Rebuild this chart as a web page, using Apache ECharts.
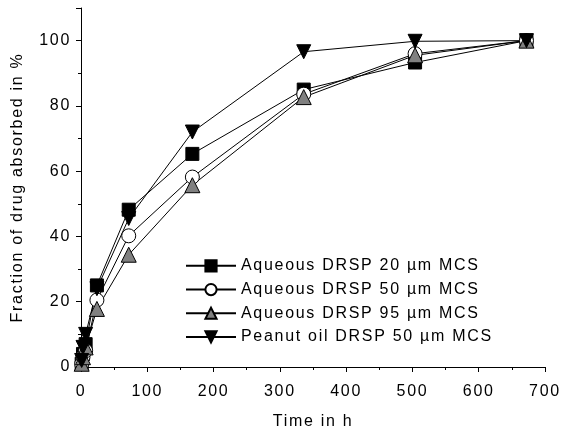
<!DOCTYPE html>
<html>
<head>
<meta charset="utf-8">
<script src="https://cdn.jsdelivr.net/npm/echarts@6/dist/echarts.min.js"></script>
<style>
  html, body { margin: 0; padding: 0; background: #fff; }
  #chart { width: 562px; height: 434px; }
</style>
</head>
<body>
<div id="chart"></div>
<script>
// Slightly airy lettering for every label drawn on the canvas
(function () {
  const proto = CanvasRenderingContext2D.prototype;
  const fill = proto.fillText;
  const measure = proto.measureText;
  proto.fillText = function () { this.letterSpacing = '1.7px'; return fill.apply(this, arguments); };
  proto.measureText = function () { this.letterSpacing = '1.7px'; return measure.apply(this, arguments); };
})();

// Sampling times (h) and absorbed fractions (%) per formulation
const times = [1, 3, 7, 24, 72, 168, 336, 504, 672];
const aq20 = [1, 4, 7, 25, 48.2, 65.3, 85, 93.3, 100];
const aq50 = [1, 3, 5, 20.5, 40.2, 58.2, 83.6, 96, 100];
const aq95 = [1, 3, 6, 17.8, 34.4, 55.7, 82.7, 95.5, 100];
const peanut50 = [2, 6, 10, 24, 45.5, 72, 96.6, 99.8, 100];

const seriesNames = [
  'Aqueous DRSP 20 \u00b5m MCS',
  'Aqueous DRSP 50 \u00b5m MCS',
  'Aqueous DRSP 95 \u00b5m MCS',
  'Peanut oil DRSP 50 \u00b5m MCS'
];

const pairs = v => times.map((t, i) => [t, v[i]]);
const font = 'Liberation Sans, Arial, sans-serif';

function line(name, values, symbol, size, fill) {
  return {
    name: name,
    type: 'line',
    data: pairs(values),
    symbol: symbol,
    symbolSize: size,
    showSymbol: true,
    lineStyle: { color: '#000', width: 1 },
    itemStyle: { color: fill, borderColor: '#000', borderWidth: 1 },
    emphasis: { disabled: true },
    animation: false
  };
}

const chart = echarts.init(document.getElementById('chart'), null, { renderer: 'canvas' });
chart.setOption({
  animation: false,
  grid: { left: 81, right: 17, top: 8, bottom: 67, containLabel: false, outerBoundsMode: 'none' },
  legend: {
    orient: 'vertical',
    left: 185,
    top: 257,
    padding: 0,
    itemWidth: 50,
    itemHeight: 14,
    itemGap: 6,
    data: seriesNames,
    textStyle: { fontFamily: font, fontSize: 16, lineHeight: 16, color: '#000' }
  },
  xAxis: {
    type: 'value',
    min: 0, max: 700, interval: 100,
    name: 'Time in h',
    nameLocation: 'middle',
    nameGap: 46,
    nameTextStyle: { fontFamily: font, fontSize: 16, color: '#000' },
    axisLine: { show: true, onZero: false, lineStyle: { color: '#000', width: 1 } },
    axisTick: { show: true, inside: false, length: 5, lineStyle: { color: '#000' } },
    minorTick: { show: true, splitNumber: 2, length: 3, lineStyle: { color: '#000' } },
    axisLabel: { fontFamily: font, fontSize: 16, color: '#000', margin: 16 },
    splitLine: { show: false }
  },
  yAxis: {
    type: 'value',
    min: 0, max: 110, interval: 20,
    name: 'Fraction of drug absorbed in %',
    nameLocation: 'middle',
    nameGap: 55,
    nameTextStyle: { fontFamily: font, fontSize: 16, color: '#000' },
    axisLine: { show: true, onZero: false, lineStyle: { color: '#000', width: 1 } },
    axisTick: { show: true, inside: false, length: 5, lineStyle: { color: '#000' } },
    minorTick: { show: true, splitNumber: 2, length: 3, lineStyle: { color: '#000' } },
    axisLabel: { fontFamily: font, fontSize: 16, color: '#000', margin: 10,
      formatter: v => (v % 20 === 0 && v <= 100) ? String(v) : '' },
    splitLine: { show: false }
  },
  series: [
    line(seriesNames[0], aq20, 'rect', 13, '#000'),
    line(seriesNames[1], aq50, 'circle', 14, '#fff'),
    line(seriesNames[2], aq95, 'triangle', 15, '#808080'),
    line(seriesNames[3], peanut50, 'path://M0,0 L10,0 L5,10 Z', 14, '#000')
  ]
});
</script>
</body>
</html>
